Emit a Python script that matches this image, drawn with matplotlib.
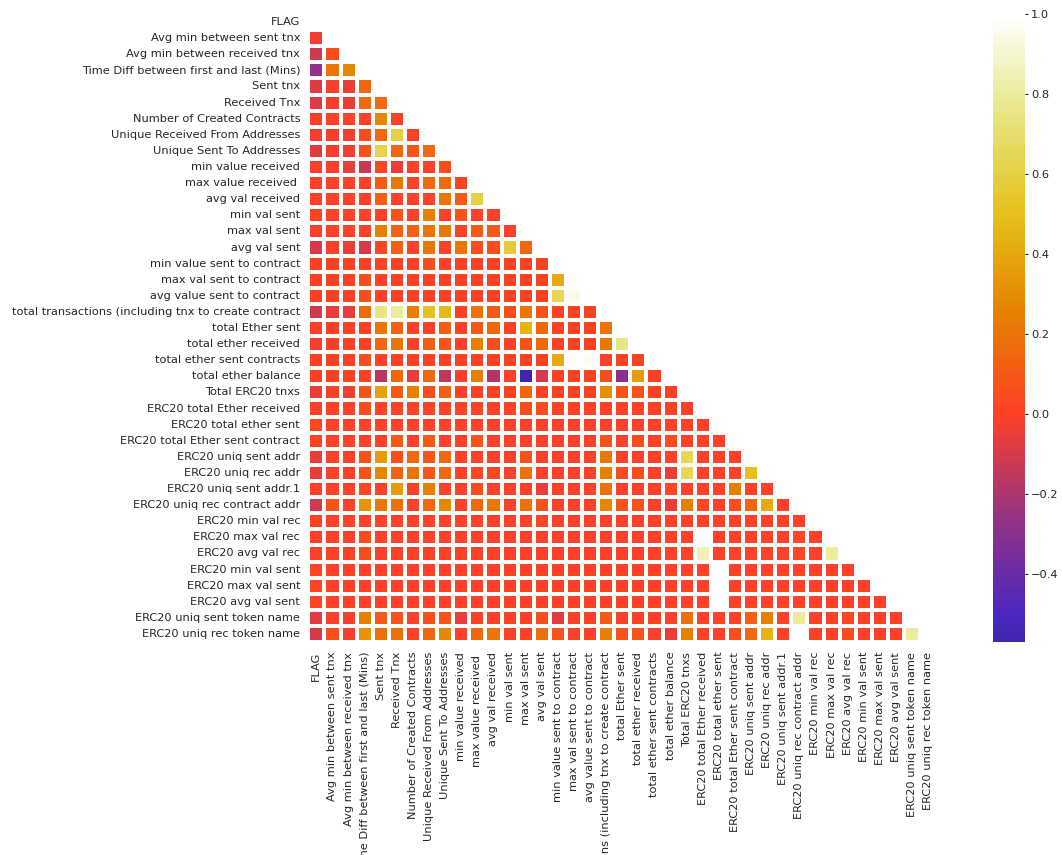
import numpy as np
import pandas as pd
import matplotlib
matplotlib.use("Agg")
import matplotlib.pyplot as plt
import seaborn as sns

nan = np.nan

features = [
    "FLAG", "Avg min between sent tnx", "Avg min between received tnx",
    "Time Diff between first and last (Mins)", "Sent tnx", "Received Tnx",
    "Number of Created Contracts", "Unique Received From Addresses",
    "Unique Sent To Addresses", "min value received", "max value received ",
    "avg val received", "min val sent", "max val sent", "avg val sent",
    "min value sent to contract", "max val sent to contract",
    "avg value sent to contract",
    "total transactions (including tnx to create contract",
    "total Ether sent", "total ether received", "total ether sent contracts",
    "total ether balance", "Total ERC20 tnxs", "ERC20 total Ether received",
    "ERC20 total ether sent", "ERC20 total Ether sent contract",
    "ERC20 uniq sent addr", "ERC20 uniq rec addr", "ERC20 uniq sent addr.1",
    "ERC20 uniq rec contract addr", "ERC20 min val rec", "ERC20 max val rec",
    "ERC20 avg val rec", "ERC20 min val sent", "ERC20 max val sent",
    "ERC20 avg val sent", "ERC20 uniq sent token name",
    "ERC20 uniq rec token name",
]

# lower triangle of the correlation matrix, row i holds columns 0..i-1
lower = [
    [],
    [-0.03],
    [-0.12, 0.05],
    [-0.27, 0.2, 0.28],
    [-0.08, -0.02, -0.04, 0.15],
    [-0.09, -0.03, -0.05, 0.15, 0.15],
    [-0.01, 0, 0, 0, 0.28, 0],
    [-0.03, -0.03, -0.03, 0.05, 0.15, 0.6, 0],
    [-0.08, -0.03, -0.03, 0.08, 0.62, 0.15, 0.08, 0.15],
    [-0.02, -0.02, -0.06, -0.13, 0.03, -0.05, 0, 0, 0.06],
    [0, 0, 0, 0, 0.1, 0.22, 0, 0.15, 0.15, 0.02],
    [0, 0, 0, 0, 0.12, 0, 0, 0, 0.2, 0.1, 0.6],
    [0.02, 0, 0, 0, 0, 0.08, 0, 0.25, 0, 0.08, 0, 0],
    [-0.02, 0, 0, 0, 0.25, 0.12, 0.12, 0.2, 0.22, 0, 0.1, 0.1, 0],
    [-0.1, 0, -0.05, -0.1, 0.02, 0.12, 0, 0.22, 0, 0.22, 0.04, 0.05, 0.57, 0.15],
    [0, 0, 0, 0, 0.02, 0, 0, 0.05, 0, 0, 0, 0, 0, 0, 0],
    [0, 0, 0, 0.05, 0, 0, 0, 0, 0, 0, 0, 0, 0, 0, 0, 0.42],
    [0, 0, 0, 0.05, 0, 0, 0, 0, 0, 0, 0, 0, 0, 0, 0, 0.65, 0.95],
    [-0.12, -0.06, -0.06, 0.17, 0.75, 0.8, 0.25, 0.52, 0.48, 0, 0.2, 0.1,
     0.05, 0.2, 0.08, 0, 0, 0],
    [-0.02, 0, 0, 0, 0.22, 0.12, 0, 0, 0.12, 0, 0.1, 0.15, 0, 0.45, 0.15,
     0, 0, 0, 0.2],
    [-0.03, 0, 0, 0, 0.15, 0.22, 0, 0.12, 0.08, 0, 0.25, 0.05, 0, 0.08, 0.15,
     0, 0, 0, 0.22, 0.75],
    [0, 0, 0, 0.04, 0, 0, 0, 0, 0, 0, 0, 0, 0, 0, 0, 0.42, nan, 0.97, 0, 0, 0],
    [0, 0, 0, 0, -0.17, 0.15, -0.06, 0.15, -0.15, 0, 0.25, -0.18, 0, -0.57,
     -0.1, 0, 0, 0, 0.05, -0.3, 0.35, 0],
    [-0.05, 0, -0.03, 0.08, 0.38, 0.1, 0.25, 0.05, 0.12, 0, 0, 0, 0, 0.15,
     0, 0, 0, 0, 0.3, 0.08, 0.08, 0, 0],
    [0, 0, 0, 0.05, 0, 0, 0, 0, 0, 0, 0, 0, 0, 0.05, 0.05, 0, 0, 0, 0, 0,
     0, 0, 0, 0],
    [0.03, 0, 0, 0, 0, 0, 0, 0, 0, 0, 0, 0, 0, 0, 0, 0, 0, 0, 0, 0, 0, 0,
     0, 0, 0],
    [0.02, 0, 0, 0, 0, 0.1, 0, 0.1, 0, 0, 0.08, 0, 0, 0, 0, 0, 0, 0, 0.08,
     0, 0.05, 0, 0.05, 0, 0, 0],
    [-0.05, 0, 0, 0.08, 0.35, 0.05, 0.15, 0.08, 0.15, 0, 0, 0, 0, 0.08, 0,
     0, 0, 0, 0.22, 0, 0, 0, 0, 0.65, 0, 0, 0],
    [-0.05, 0, 0, 0.08, 0.28, 0.12, 0.2, 0.08, 0.15, 0, 0.03, 0.03, 0, 0.18,
     0, 0, 0, 0, 0.25, 0.05, 0.05, 0, -0.05, 0.65, 0, 0, 0, 0.5],
    [0, 0, 0, 0.03, 0, 0.35, 0, 0.25, 0, 0, 0.05, 0, 0, 0, -0.05, 0, 0, 0,
     0.18, 0, 0, 0, 0.03, 0, 0, 0, 0.25, 0, 0],
    [-0.12, 0.08, 0, 0.32, 0.22, 0.18, 0, 0.15, 0.28, 0, 0.15, 0.22, 0, 0.18,
     0.08, 0, 0, 0, 0.28, 0.08, 0.08, 0, -0.05, 0.25, 0.03, 0, 0.05, 0.15,
     0.42, 0],
    [0.02, 0, 0, 0, 0, 0, 0, 0, 0, 0, 0, 0, 0, 0, 0.03, 0, 0, 0, 0, 0, 0,
     0, 0, 0, 0, 0, 0, 0, 0, 0, 0],
    [0, 0, 0, 0.05, 0, 0, 0, 0, 0, 0, 0, 0, 0, 0, 0, 0, 0, 0, 0, 0, 0, 0,
     0, 0, nan, 0, 0, 0, 0, 0, 0.03, 0],
    [0, 0, 0, 0.05, 0, 0, 0, 0, 0, 0, 0, 0, 0, 0, 0, 0, 0, 0, 0, 0, 0, 0,
     0, 0, 0.85, 0, 0, 0, 0, 0, 0.03, 0, 0.8],
    [0.02, 0, 0, 0, 0, 0, 0, 0, 0, 0, 0, 0, 0, 0, 0, 0, 0, 0, 0, 0, 0, 0,
     0, 0, 0, nan, 0, 0, 0, 0, 0, 0, 0, 0],
    [0.02, 0, 0, 0, 0, 0, 0, 0, 0, 0, 0, 0, 0, 0, 0, 0, 0, 0, 0, 0, 0, 0,
     0, 0, 0, nan, 0, 0, 0, 0, 0, 0, 0, 0, 0],
    [0.02, 0, 0, 0, 0, 0, 0, 0, 0, 0, 0, 0, 0, 0, 0, 0, 0, 0, 0, 0, 0, 0,
     0, 0, 0, nan, 0, 0, 0, 0, 0, 0, 0, 0, 0, 0],
    [-0.07, 0, -0.03, 0.25, 0.1, 0.08, 0, 0.05, 0.08, -0.06, 0, 0, 0, 0,
     0.05, -0.07, 0, 0, 0.1, 0, 0, 0, 0, 0.18, 0, 0, 0, 0.12, 0.25, 0, 0.8,
     0, 0, 0.03, 0, 0, 0],
    [-0.1, 0.06, -0.02, 0.32, 0.18, 0.18, 0, 0.15, 0.28, 0, 0.15, 0.2, 0, 0,
     0.18, 0.08, 0, 0, 0.25, 0.08, 0.08, 0, -0.05, 0.25, 0, 0, 0.05, 0.15,
     0.45, 0, nan, 0, 0, 0.05, 0, 0, 0, 0.8],
]

n = len(features)
corr = np.ones((n, n))
for i, row in enumerate(lower):
    for j, v in enumerate(row):
        corr[i, j] = v
        corr[j, i] = v
corr = pd.DataFrame(corr, index=features, columns=features)
mask = np.triu(np.ones_like(corr, dtype=bool))

text_col = "#262626"
fs = 8.2
plt.rcParams["text.color"] = text_col
plt.rcParams["xtick.color"] = text_col
plt.rcParams["ytick.color"] = text_col
plt.rcParams["font.size"] = fs

fig = plt.figure(figsize=(10.62, 8.55), dpi=100)
ax = fig.add_axes([0.2903, 0.2491, 0.5913, 0.7345])
cax = fig.add_axes([0.935, 0.2491, 0.0301, 0.7345])

sns.heatmap(corr, mask=mask, cmap="CMRmap", center=0, vmin=-0.57, vmax=1.0,
            linewidths=1.5, linecolor="white", square=False,
            ax=ax, cbar_ax=cax, xticklabels=features, yticklabels=features)

ax.tick_params(axis="both", length=0, labelsize=fs)
ax.tick_params(axis="x", pad=7, labelrotation=90)
ax.tick_params(axis="y", pad=5.8, labelrotation=0)
cax.tick_params(length=2.5, width=0.8, pad=2, labelsize=fs, color=text_col)
cax.set_yticks([-0.4, -0.2, 0.0, 0.2, 0.4, 0.6, 0.8, 1.0])

fig.savefig("out.png", dpi=100)
